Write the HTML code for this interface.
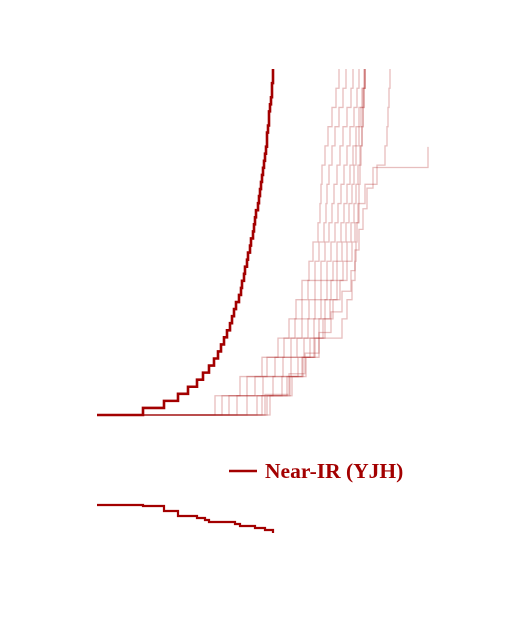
<!DOCTYPE html>
<html><head><meta charset="utf-8"><style>
html,body{margin:0;padding:0;background:#fff;width:509px;height:630px;overflow:hidden}
svg{display:block}
</style></head><body>
<svg id="chart" width="509" height="630" viewBox="0 0 509 630" xmlns="http://www.w3.org/2000/svg">
<g id="faint"></g>
<g id="main"></g>
<g id="lower"></g>
<g>
<line x1="229" y1="471" x2="257" y2="471" stroke="#a30000" stroke-width="2.5"/>
<text x="265" y="478" font-family="'Liberation Serif', serif" font-weight="bold" font-size="21.5" fill="#a30000">Near-IR (YJH)</text>
</g>
</svg>
<script>
// x data values (pixel-offset units from left of plot)
const mainSteps = [46,67,81,91,100,106,112,117,121,124,127,130,133,135,137,139,142,144,145,147,148,150,151,153,154,156,157,158,159,161,162,163,164,165,166,167,168,169,170,170,171,172,172,173,174,175,175,176,176];
const lowerX = [0,46,67,81,100,108,112,138,143,158,168,176];
const lowerY = [0,1,6,11,13,15,17,19,21,23,25,28];
const faintA = [118,143,165,181,192,199,205,212,216,221,223,224,225,228,231,235,239,242];
const faintB = [125,150,170,187,198,205,211,218,222,227,229,230,232,235,238,242,246,249];
const faintC = [132,158,178,194,205,212,218,224,228,232,235,237,240,243,246,250,254,256];
const faintD = [140,166,186,200,211,218,224,230,234,238,241,244,247,250,253,257,260,262];
const faintE = [150,176,194,207,217,224,230,236,240,244,247,250,253,256,259,262,265,267];
const faintF = [160,185,201,213,222,228,234,240,245,249,252,255,257,259,262,264,266,268];
const faintG = [170,193,206,217,226,233,240,246,250,254,257,259,261,263,265,266,267,268];
const faintH = [173,195,209,222,245,250,255,258,259,260,261,262,263,264,265,266,267,268];
const faintI = [165,190,205,218,228,236,243,250,255,258,262,268,280,288,290,291,292,293];
const faintJ = [168,192,208,222,234,245,254,258,262,266,270,276,331];
const faintSeries = [faintA,faintB,faintC,faintD,faintE,faintF,faintG,faintH,faintI,faintJ];
const faintTop = [1,1,1,1,1,1,1,1,1,0.775];

const x0=97, yBase=415, yTopPx=69;
function xs(v){return x0+v;}
function yFrac(f){return yBase-(yBase-yTopPx)*f;}
function yLow(v){return 505+v;}

function stepPath(xsArr, topFrac){
  const n=xsArr.length;
  let d='M'+x0+','+yBase;
  for(let i=0;i<n;i++){
    const x=xs(xsArr[i]);
    d+=' L'+x+','+yFrac(i/n*topFrac)+' L'+x+','+yFrac((i+1)/n*topFrac);
  }
  return d;
}
const NS='http://www.w3.org/2000/svg';
const fg=document.getElementById('faint');
faintSeries.forEach((s,k)=>{
  const p=document.createElementNS(NS,'path');
  p.setAttribute('d',stepPath(s,faintTop[k]));
  p.setAttribute('fill','none');p.setAttribute('stroke','rgba(170,20,20,0.28)');p.setAttribute('stroke-width','1.3');
  
  
  fg.appendChild(p);
});
const mp=document.createElementNS(NS,'path');
mp.setAttribute('d',stepPath(mainSteps,1));
mp.setAttribute('fill','none');mp.setAttribute('stroke','#a30000');mp.setAttribute('stroke-width','2.6');


document.getElementById('main').appendChild(mp);
let d='M'+xs(lowerX[0])+','+yLow(lowerY[0]);
for(let i=1;i<lowerX.length;i++){d+=' L'+xs(lowerX[i])+','+yLow(lowerY[i-1])+' L'+xs(lowerX[i])+','+yLow(lowerY[i]);}
const lp=document.createElementNS(NS,'path');
lp.setAttribute('d',d);lp.setAttribute('fill','none');lp.setAttribute('stroke','#a30000');lp.setAttribute('stroke-width','2.2');


document.getElementById('lower').appendChild(lp);
</script>
</body></html>
